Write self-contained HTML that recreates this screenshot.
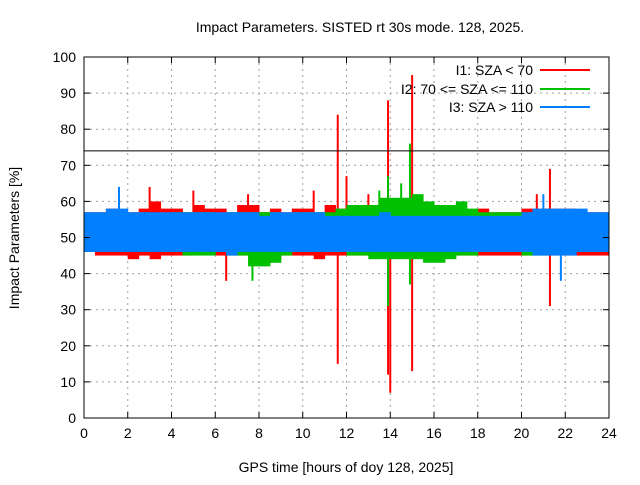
<!DOCTYPE html>
<html><head><meta charset="utf-8"><style>
body{margin:0;background:#fff}
text{font-family:"Liberation Sans",sans-serif;font-size:14px;fill:#000}
</style></head><body>
<svg id="chart" width="640" height="480" xmlns="http://www.w3.org/2000/svg">
<rect width="640" height="480" fill="#fff"/>
<g id="grid"></g>
<g id="marks"></g>
<g id="axes"></g>
<text x="360" y="32" text-anchor="middle">Impact Parameters. SISTED rt 30s mode. 128, 2025.</text>
<text x="346" y="472" text-anchor="middle">GPS time [hours of doy 128, 2025]</text>
<text transform="translate(19,238) rotate(-90)" text-anchor="middle">Impact Parameters [%]</text>
<g>
<text x="533" y="75" text-anchor="end">I1: SZA &lt; 70</text>
<line x1="540" y1="70" x2="590" y2="70" stroke="#ff0000" stroke-width="2"/>
<text x="533" y="94" text-anchor="end">I2: 70 &lt;= SZA &lt;= 110</text>
<line x1="540" y1="89" x2="590" y2="89" stroke="#00c000" stroke-width="2"/>
<text x="533" y="112" text-anchor="end">I3: SZA &gt; 110</text>
<line x1="540" y1="107" x2="590" y2="107" stroke="#0080ff" stroke-width="2"/>
</g>
</svg>
<script>
const xTicks=[0,2,4,6,8,10,12,14,16,18,20,22,24];
const yTicks=[0,10,20,30,40,50,60,70,80,90,100];
const refLine=74;
const redHi=[57,57,58,57,57,58,60,58,58,57,59,58,58,57,59,59,57,58,57,58,58,57,59,58,59,59,59,59,58,58,59,58,58,57,57,57,58,57,57,57,58,58,58,58,58,57,57,57];
const redLo=[46,45,45,45,44,45,44,45,45,45,46,46,45,45,45,45,44,44,45,45,45,44,45,45,45,45,45,45,45,46,45,45,46,45,45,45,45,45,45,45,45,45,45,45,45,45,45,45];
const greenHi=[56,56,56,56,56,57,56,56,57,57,57,57,56,57,57,57,57,57,56,57,57,57,57,58,59,59,59,61,61,61,62,60,59,59,60,58,57,57,57,57,57,57,56,57,56,57,56,56];
const greenLo=[47,47,47,46,47,46,47,46,46,45,45,45,46,45,45,42,42,43,45,46,46,46,46,46,45,45,44,44,44,44,44,43,43,44,45,45,46,46,46,46,45,45,45,46,46,46,46,46];
const blueHi=[57,57,58,58,57,57,57,57,57,57,57,57,57,57,57,57,56,57,57,57,57,57,56,56,56,56,56,57,56,56,56,56,56,56,56,56,56,56,56,56,57,58,58,58,58,58,57,57];
const blueLo=[46,46,46,46,46,46,46,46,46,46,46,46,46,45,46,46,46,46,46,46,46,46,46,46,46,46,46,46,46,46,46,46,46,46,46,46,46,46,46,46,46,45,45,45,45,46,46,46];
const redSpikeT=[3.0,5.0,6.5,7.5,10.5,11.6,12.0,13.0,13.9,14.0,15.0,20.7,21.3];
const redSpikeLo=[50,50,38,50,50,15,50,50,12,7,13,50,31];
const redSpikeHi=[64,63,50,62,63,84,67,62,88,60,95,62,69];
const greenSpikeT=[7.7,13.5,13.9,14.5,14.9];
const greenSpikeLo=[38,50,31,50,37];
const greenSpikeHi=[50,63,67,65,76];
const blueSpikeT=[1.6,21.0,21.8];
const blueSpikeLo=[50,50,38];
const blueSpikeHi=[64,62,50];
const binH=0.5;
const X0=84,X1=609,Y0=418,Y1=57;
const xs=t=>X0+(t/24)*(X1-X0);
const ys=v=>Y0-(v/100)*(Y0-Y1);
const NS="http://www.w3.org/2000/svg";
function mk(tag,attrs,parent){const e=document.createElementNS(NS,tag);for(const k in attrs)e.setAttribute(k,attrs[k]);parent.appendChild(e);return e;}
const grid=document.getElementById('grid'),marks=document.getElementById('marks'),axes=document.getElementById('axes');
xTicks.forEach(t=>{
 if(t>0&&t<24){const g=mk('line',{x1:xs(t),x2:xs(t),y1:Y1,y2:Y0,stroke:'#a0a0a0','stroke-dasharray':'2,4'},grid);
 }
 const l=mk('line',{x1:xs(t),x2:xs(t),y1:Y0,y2:Y0-6,stroke:'#000'},axes);
 
 const l2=mk('line',{x1:xs(t),x2:xs(t),y1:Y1,y2:Y1+6,stroke:'#000'},axes);
 
 const tx=mk('text',{x:xs(t),y:Y0+20,'text-anchor':'middle'},axes);tx.textContent=t;
 
});
yTicks.forEach(v=>{
 if(v>0&&v<100){const g=mk('line',{x1:X0,x2:X1,y1:ys(v),y2:ys(v),stroke:'#a0a0a0','stroke-dasharray':'2,4'},grid);
 }
 const l=mk('line',{x1:X0,x2:X0+6,y1:ys(v),y2:ys(v),stroke:'#000'},axes);
 
 const l2=mk('line',{x1:X1,x2:X1-6,y1:ys(v),y2:ys(v),stroke:'#000'},axes);
 
 const tx=mk('text',{x:X0-8,y:ys(v)+5,'text-anchor':'end'},axes);tx.textContent=v;
 
});
function series(hi,lo,st,sl,sh,color,name){
 hi.forEach((h,i)=>{
  const r=mk('rect',{x:xs(i*binH),width:xs(binH)-xs(0)+0.5,y:ys(h),height:ys(lo[i])-ys(h),fill:color},marks);
  
 });
 st.forEach((t,i)=>{
  const l=mk('rect',{x:xs(t)-1,width:2,y:ys(sh[i]),height:ys(sl[i])-ys(sh[i]),fill:color},marks);
  
 });
}
series(redHi,redLo,redSpikeT,redSpikeLo,redSpikeHi,'#ff0000','i1-series');
series(greenHi,greenLo,greenSpikeT,greenSpikeLo,greenSpikeHi,'#00c000','i2-series');
series(blueHi,blueLo,blueSpikeT,blueSpikeLo,blueSpikeHi,'#0080ff','i3-series');
const rl=mk('line',{x1:X0,x2:X1,y1:ys(refLine),y2:ys(refLine),stroke:'#000','stroke-width':1},axes);


const fr=mk('rect',{x:X0,y:Y1,width:X1-X0,height:Y0-Y1,fill:'none',stroke:'#000'},axes);


</script>
</body></html>
